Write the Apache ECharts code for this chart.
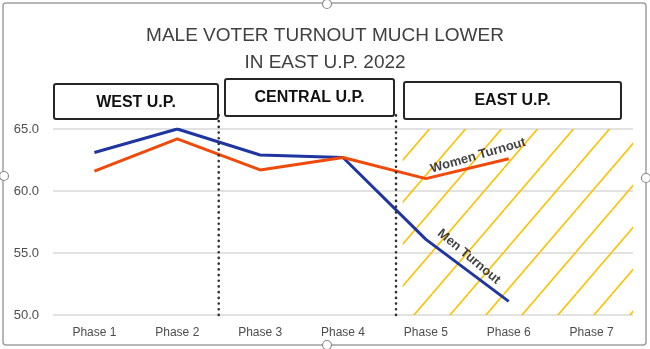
<!DOCTYPE html>
<html>
<head>
<meta charset="utf-8">
<script src="https://cdn.jsdelivr.net/npm/echarts@6/dist/echarts.min.js"></script>
<style>
  html, body { margin: 0; padding: 0; background: #fff; }
  #chart { width: 650px; height: 349px; }
</style>
</head>
<body>
<div id="chart"></div>
<script>
// Turnout by phase, Uttar Pradesh 2022
const phases = ['Phase 1', 'Phase 2', 'Phase 3', 'Phase 4', 'Phase 5', 'Phase 6', 'Phase 7'];
const menTurnout = [63.1, 65.0, 62.9, 62.7, 56.1, 51.1, null];
const womenTurnout = [61.6, 64.2, 61.7, 62.7, 61.0, 62.6, null];
const yTicks = [50, 55, 60, 65];

// Region boundaries on the phase scale (0 = Phase 1)
const regionBreaks = [1.5, 3.64];
const regions = ['WEST U.P.', 'CENTRAL U.P.', 'EAST U.P.'];
const eastStart = 3.72;

const FONT = "'Liberation Sans', Arial, sans-serif";
const MEN_COLOR = '#1F35A0';
const WOMEN_COLOR = '#F04A0A';

// Diagonal hatch tile for the East U.P. band
function hatchTile() {
  const w = 36, h = 42;
  const c = document.createElement('canvas');
  c.width = w; c.height = h;
  const g = c.getContext('2d');
  g.strokeStyle = '#FFC000';
  g.lineWidth = 1.6;
  for (let k = -1; k <= 1; k++) {
    g.beginPath();
    g.moveTo(k * w, h);
    g.lineTo(k * w + w, 0);
    g.stroke();
  }
  return c;
}

const chart = echarts.init(document.getElementById('chart'), null, { renderer: 'canvas' });

const boxStyle = { fill: '#fff', stroke: '#262626', lineWidth: 2 };
const boxes = [
  { x: 54, y: 84, w: 164, h: 35, cy: 103 },
  { x: 225, y: 79, w: 169, h: 37, cy: 98 },
  { x: 404, y: 82, w: 217, h: 37, cy: 101 }
];
const graphics = [];
// outer frame with sizing handles
graphics.push({
  type: 'rect', shape: { x: 3, y: 3, width: 643, height: 342, r: 3 },
  style: { fill: 'none', stroke: '#A0A0A0', lineWidth: 1.5 }, silent: true, z: 0
});
[[4, 176], [646, 178], [327, 4], [327, 345]].forEach(p => {
  graphics.push({
    type: 'circle', shape: { cx: p[0], cy: p[1], r: 4.5 },
    style: { fill: '#fff', stroke: '#8C8C8C', lineWidth: 1.2 }, silent: true, z: 1
  });
});
boxes.forEach((b, i) => {
  graphics.push({
    type: 'rect', shape: { x: b.x, y: b.y, width: b.w, height: b.h, r: 2 },
    style: boxStyle, z: 10
  });
  graphics.push({
    type: 'text', x: b.x + b.w / 2, y: b.cy,
    style: {
      text: regions[i], fill: '#111', font: 'bold 16px ' + FONT,
      textAlign: 'center', textVerticalAlign: 'middle'
    }, z: 11
  });
});

chart.setOption({
  animation: false,
  backgroundColor: '#fff',
  textStyle: { fontFamily: FONT },
  title: {
    text: 'MALE VOTER TURNOUT MUCH LOWER\nIN EAST U.P. 2022',
    left: 'center', top: 17,
    textStyle: { fontFamily: FONT, fontSize: 19, fontWeight: 'normal', color: '#404040', lineHeight: 27 }
  },
  grid: { left: 53, right: 17, top: 129, bottom: 34 },
  xAxis: [
    {
      type: 'category', data: phases, boundaryGap: true,
      axisLine: { show: false }, axisTick: { show: false },
      axisLabel: { color: '#4d4d4d', fontSize: 12, margin: 12, fontFamily: FONT }
    },
    { type: 'value', min: -0.5, max: 6.5, show: false }
  ],
  yAxis: {
    type: 'value', min: yTicks[0], max: yTicks[yTicks.length - 1], interval: 5,
    axisLine: { show: false }, axisTick: { show: false },
    axisLabel: { color: '#4d4d4d', fontSize: 13, margin: 14, fontFamily: FONT,
      formatter: v => v.toFixed(1) },
    splitLine: { lineStyle: { color: '#D9D9D9', width: 1.5 } }
  },
  series: [
    {
      name: 'Hatch', type: 'scatter', xAxisIndex: 1, clip: false, symbolSize: 0,
      z: 1,
      data: [],
      markArea: {
        silent: true,
        itemStyle: { color: { image: hatchTile(), repeat: 'repeat' } },
        data: [[{ coord: [eastStart, 50] }, { coord: [6.5, 65] }]]
      }
    },
    {
      name: 'Men Turnout', type: 'line', data: menTurnout, showSymbol: false,
      lineStyle: { color: MEN_COLOR, width: 3 }, itemStyle: { color: MEN_COLOR }, z: 3
    },
    {
      name: 'Women Turnout', type: 'line', data: womenTurnout, showSymbol: false,
      lineStyle: { color: WOMEN_COLOR, width: 3 }, itemStyle: { color: WOMEN_COLOR }, z: 3
    },
    {
      // round-dotted separators between regions, rising up to the region boxes
      name: 'Breaks', type: 'custom', xAxisIndex: 1, clip: false, silent: true, z: 4,
      data: regionBreaks.map(x => [x]),
      renderItem: (params, api) => {
        const x = api.value(0);
        const p0 = api.coord([x, 50]);
        const p1 = api.coord([x, 66.3]);
        return {
          type: 'line',
          shape: { x1: p0[0], y1: p0[1], x2: p1[0], y2: p1[1] },
          style: { stroke: '#303030', lineWidth: 2.6, lineDash: [0.1, 5.6], lineCap: 'round' }
        };
      }
    },
    {
      name: 'Labels', type: 'scatter', xAxisIndex: 1, clip: false, symbolSize: 0, z: 5,
      label: { show: true, position: 'inside', fontFamily: FONT, fontWeight: 'bold',
        fontSize: 13, color: '#111', formatter: p => p.name },
      data: [
        { name: 'Women Turnout', value: [4.63, 62.85], label: { rotate: 16 } },
        { name: 'Men Turnout', value: [4.52, 54.7], label: { rotate: -40 } }
      ]
    }
  ],
  graphic: graphics
});
</script>
</body>
</html>
